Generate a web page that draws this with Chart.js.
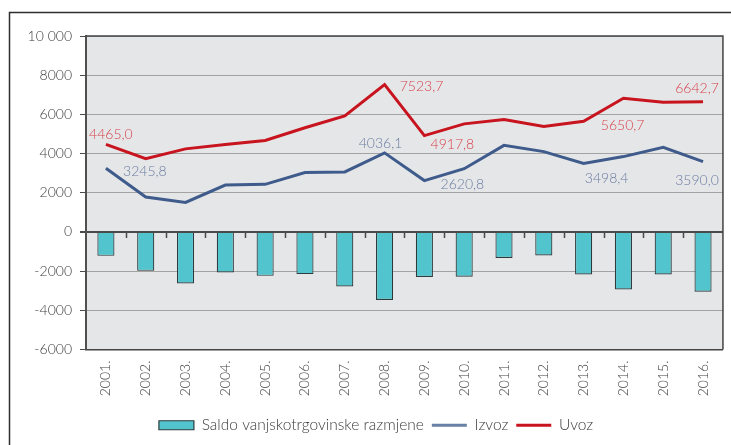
<!DOCTYPE html>
<html>
<head>
<meta charset="utf-8">
<script src="https://cdn.jsdelivr.net/npm/chart.js@4"></script>
<style>
  html, body { margin: 0; padding: 0; background: #ffffff; }
  #wrap { position: relative; width: 731px; height: 445px; }
</style>
</head>
<body>
<div id="wrap"><canvas id="c" width="731" height="445"></canvas></div>
<script>
// ---- data ----
const years = ['2001.', '2002.', '2003.', '2004.', '2005.', '2006.', '2007.', '2008.',
               '2009.', '2010.', '2011.', '2012.', '2013.', '2014.', '2015.', '2016.'];
const saldo = [-1220, -1985, -2626, -2066, -2240, -2153, -2780, -3470,
               -2297, -2290, -1327, -1205, -2168, -2935, -2168, -3050];
const izvoz = [3245.8, 1780, 1505, 2395, 2430, 3035, 3065, 4036.1,
               2620.8, 3226, 4418, 4100, 3498.4, 3845, 4315, 3590.0];
const uvoz  = [4465.0, 3740, 4240, 4465, 4665, 5320, 5920, 7523.7,
               4917.8, 5516, 5735, 5380, 5650.7, 6820, 6617, 6642.7];
const seriesNames = ['Saldo vanjskotrgovinske razmjene', 'Izvoz', 'Uvoz'];
const yTicks = [-6000, -4000, -2000, 0, 2000, 4000, 6000, 8000, 10000];
const labeledIdx = [0, 7, 8, 12, 15];

// ---- styling / placement (not data) ----
const FONT = 'Lato, "Open Sans", sans-serif';
const COLORS = {
  bar: '#52c4ce', barBorder: '#2f3a3c',
  izvoz: '#3f5b8c', izvozLegend: '#6680a6', izvozLabel: '#6b7ca2',
  uvoz: '#c8141f', uvozLabel: '#d6434c',
  plotBg: '#e5e6e8', grid: '#a3a3a3', dark: '#4a4a4a', text: '#3c3c3c'
};
// label offsets in px relative to the point: [dx, dy] per labeled index
const labelOffsets = {
  1: { 0: [39, 3], 7: [-4, -9], 8: [38, 4], 12: [23, 15], 15: [-6, 19] },
  2: { 0: [5, -10], 7: [37, 2], 8: [28, 9], 12: [39, 4], 15: [-6, -13] }
};

const fmt = v => v.toFixed(1).replace('.', ',');

const framePlugin = {
  id: 'frame',
  beforeDraw(chart) {
    const { ctx, chartArea: a } = chart;
    ctx.save();
    ctx.fillStyle = COLORS.plotBg;
    ctx.fillRect(a.left, a.top, a.right - a.left, a.bottom - a.top);
    // outer frame (top + left edges)
    ctx.strokeStyle = '#2e2e2e';
    ctx.lineWidth = 1.5;
    ctx.beginPath();
    ctx.moveTo(9.5, 445);
    ctx.lineTo(9.5, 12.5);
    ctx.lineTo(731, 12.5);
    ctx.stroke();
    ctx.restore();
  },
  beforeDatasetsDraw(chart) {
    const { ctx, chartArea: a, scales } = chart;
    const x = scales.x, y = scales.y;
    const y0 = y.getPixelForValue(0);
    ctx.save();
    ctx.strokeStyle = COLORS.dark;
    ctx.lineWidth = 1.5;
    ctx.beginPath();
    for (let i = 0; i < years.length - 1; i++) {
      const xm = Math.round((x.getPixelForTick(i) + x.getPixelForTick(i + 1)) / 2) + 0.5;
      ctx.moveTo(xm, y0);
      ctx.lineTo(xm, y0 + 6);
    }
    ctx.stroke();
    // top & right border of plot
    ctx.strokeStyle = '#444';
    ctx.lineWidth = 1.5;
    ctx.beginPath();
    ctx.moveTo(a.left, a.top);
    ctx.lineTo(a.right, a.top);
    ctx.lineTo(a.right, a.bottom);
    ctx.stroke();
    ctx.restore();
  },
  afterDatasetsDraw(chart) {
    const { ctx } = chart;
    ctx.save();
    ctx.font = '300 14px ' + FONT;
    ctx.textAlign = 'center';
    ctx.textBaseline = 'middle';
    [1, 2].forEach(di => {
      const meta = chart.getDatasetMeta(di);
      const ds = chart.data.datasets[di];
      ctx.fillStyle = di === 1 ? COLORS.izvozLabel : COLORS.uvozLabel;
      labeledIdx.forEach(i => {
        const p = meta.data[i];
        const off = labelOffsets[di][i];
        ctx.fillText(fmt(ds.data[i]), p.x + off[0], p.y + off[1]);
      });
    });
    ctx.restore();
  }
};

new Chart(document.getElementById('c'), {
  data: {
    labels: years,
    datasets: [
      {
        type: 'bar', label: seriesNames[0], data: saldo,
        backgroundColor: COLORS.bar, borderColor: COLORS.barBorder, borderWidth: 1.2,
        barPercentage: 0.43, categoryPercentage: 1.0, order: 3
      },
      {
        type: 'line', label: seriesNames[1], data: izvoz,
        borderColor: COLORS.izvoz, borderWidth: 3, pointRadius: 0, tension: 0, order: 2
      },
      {
        type: 'line', label: seriesNames[2], data: uvoz,
        borderColor: COLORS.uvoz, borderWidth: 3, pointRadius: 0, tension: 0, order: 1
      }
    ]
  },
  options: {
    responsive: false,
    animation: false,
    devicePixelRatio: 1,
    layout: { padding: { left: 26, right: 5, top: 36, bottom: 2 } },
    plugins: {
      tooltip: { enabled: false },
      legend: {
        position: 'bottom',
        labels: {
          usePointStyle: true,
          pointStyleWidth: 35,
          boxHeight: 9,
          padding: 8,
          color: COLORS.text,
          font: { family: FONT, size: 15.5, weight: '300' },
          generateLabels(chart) {
            return [
              { text: seriesNames[0], pointStyle: 'rect', fillStyle: COLORS.bar,
                strokeStyle: COLORS.barBorder, lineWidth: 1.2, datasetIndex: 0, fontColor: COLORS.text },
              { text: seriesNames[1], pointStyle: 'line', fillStyle: COLORS.izvozLegend,
                strokeStyle: COLORS.izvozLegend, lineWidth: 3, datasetIndex: 1, fontColor: COLORS.text },
              { text: seriesNames[2], pointStyle: 'line', fillStyle: COLORS.uvoz,
                strokeStyle: COLORS.uvoz, lineWidth: 3, datasetIndex: 2, fontColor: COLORS.text }
            ];
          }
        }
      }
    },
    scales: {
      x: {
        type: 'category',
        offset: true,
        grid: { display: false, drawTicks: false },
        border: { display: true, color: '#444', width: 1.5 },
        ticks: {
          minRotation: 90, maxRotation: 90, padding: 11,
          color: COLORS.text, font: { family: FONT, size: 14, weight: '300' }
        },
        afterFit(s) { s.height = 60; }
      },
      y: {
        min: -6000, max: 10000,
        afterBuildTicks(s) { s.ticks = yTicks.map(v => ({ value: v })); },
        grid: {
          color: c => (c.tick && c.tick.value === 0) ? COLORS.dark : COLORS.grid,
          lineWidth: c => (c.tick && c.tick.value === 0) ? 2 : 1,
          tickColor: COLORS.dark,
          tickLength: 6,
          drawTicks: true
        },
        border: { display: true, color: '#505050', width: 2 },
        ticks: {
          padding: 8,
          color: COLORS.text,
          font: { family: FONT, size: 14, weight: '300' },
          callback: v => v === 10000 ? '10 000' : String(v)
        },
        afterFit(s) { s.width = 60; }
      }
    }
  },
  plugins: [framePlugin]
});
</script>
</body>
</html>
